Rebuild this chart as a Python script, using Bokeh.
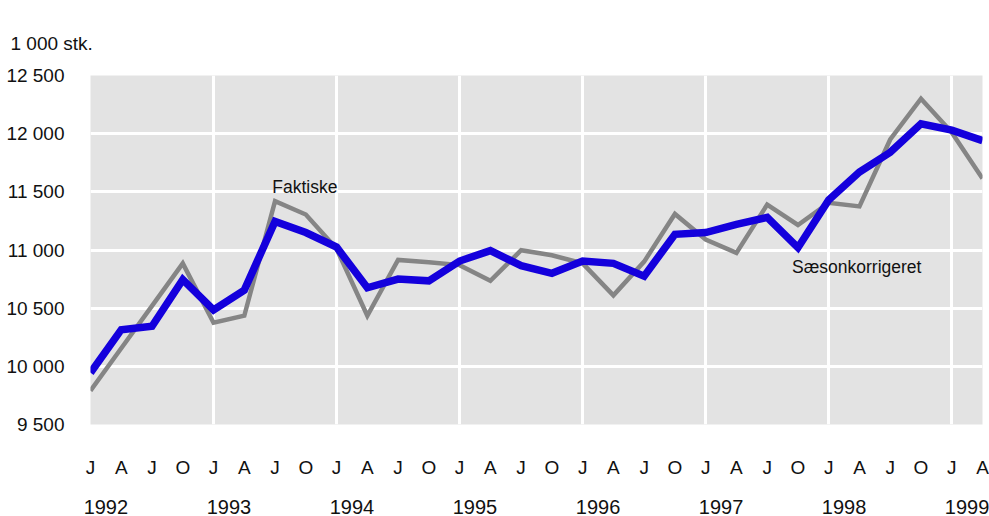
from bokeh.plotting import figure
from bokeh.models import FixedTicker, LinearAxis, Range1d
from bokeh.embed import file_html
from bokeh.resources import INLINE
from bokeh.core.properties import value

# ---- data -------------------------------------------------------------
years = [1992, 1993, 1994, 1995, 1996, 1997, 1998, 1999]
quarter_letters = ["J", "A", "J", "O"]

# quarterly, 1992 Q1 .. 1999 Q2 (1 000 stk.)
faktiske = [9790, 10155, 10520, 10885,
            10375, 10435, 11420, 11305,
            11010, 10435, 10915, 10895,
            10870, 10735, 10998, 10955,
            10885, 10610, 10900, 11310,
            11090, 10975, 11390, 11215,
            11405, 11375, 11950, 12300,
            12010, 11615]
saesonkorrigeret = [9945, 10315, 10345, 10745,
                    10485, 10655, 11245, 11150,
                    11025, 10675, 10750, 10735,
                    10905, 10995, 10865, 10800,
                    10905, 10885, 10775, 11135,
                    11150, 11220, 11280, 11020,
                    11430, 11670, 11840, 12085,
                    12030, 11940]

y_ticks = [9500, 10000, 10500, 11000, 11500, 12000, 12500]
y_tick_labels = ["9 500", "10 000", "10 500", "11 000", "11 500", "12 000", "12 500"]
unit_label = "1 000 stk."
series_names = ["Faktiske", "Sæsonkorrigeret"]

# ---- derived ----------------------------------------------------------
n = len(faktiske)
x = list(range(n))
quarter_labels = [quarter_letters[i % 4] for i in x]
year_pos = [4 * k + 0.5 for k in range(len(years))]

FONT = "Liberation Sans"
INK = "#111111"

p = figure(width=989, height=516,
           x_range=Range1d(0, n - 1), y_range=Range1d(y_ticks[0], y_ticks[-1]),
           output_backend="svg", toolbar_location=None,
           min_border_left=90, min_border_right=7, min_border_top=75, min_border_bottom=86)

p.background_fill_color = "#E3E3E3"
p.border_fill_color = "white"
p.outline_line_color = None

# title (unit)
p.title.text = unit_label
p.title.text_font = FONT
p.title.text_font_size = "19px"
p.title.text_font_style = "normal"
p.title.text_color = INK
p.title.align = "left"
p.title.offset = -80
p.title.standoff = 44

# grids
p.xgrid.ticker = FixedTicker(ticks=[4 * k for k in range(1, len(years))])
p.ygrid.ticker = FixedTicker(ticks=y_ticks[1:-1])
for g in (p.xgrid[0], p.ygrid[0]):
    g.grid_line_color = "white"
    g.grid_line_width = 3

# y axis
ya = p.yaxis[0]
ya.ticker = FixedTicker(ticks=y_ticks)
ya.major_label_overrides = {t: s for t, s in zip(y_ticks, y_tick_labels)}
ya.axis_line_color = None
ya.major_tick_line_color = None
ya.minor_tick_line_color = None
ya.major_label_standoff = 20
ya.major_label_text_font = FONT
ya.major_label_text_font_size = "19px"
ya.major_label_text_color = INK

# quarter axis
xa = p.xaxis[0]
xa.ticker = FixedTicker(ticks=x)
xa.major_label_overrides = {i: s for i, s in zip(x, quarter_labels)}
xa.axis_line_color = None
xa.major_tick_line_color = None
xa.minor_tick_line_color = None
xa.major_label_standoff = 26
xa.major_label_text_font = FONT
xa.major_label_text_font_size = "19px"
xa.major_label_text_color = INK

# year axis
yr_axis = LinearAxis(ticker=FixedTicker(ticks=year_pos),
                     major_label_overrides={pos: str(yr) for pos, yr in zip(year_pos, years)})
yr_axis.axis_line_color = None
yr_axis.major_tick_line_color = None
yr_axis.minor_tick_line_color = None
yr_axis.major_label_standoff = 13
yr_axis.major_label_text_font = FONT
yr_axis.major_label_text_font_size = "20px"
yr_axis.major_label_text_color = INK
p.add_layout(yr_axis, "below")

# lines
p.line(x, faktiske, line_color="#858585", line_width=4.5, line_join="miter")
p.line(x, saesonkorrigeret, line_color="#1400DC", line_width=7.5, line_join="miter")

# series labels
p.text(x=[5.91], y=[11545], text=[series_names[0]], text_font=value(FONT),
       text_font_size="17.5px", text_color=INK, text_baseline="alphabetic")
p.text(x=[22.81], y=[10850], text=[series_names[1]], text_font=value(FONT),
       text_font_size="17.5px", text_color=INK, text_baseline="alphabetic")

open("out.html", "w").write(file_html(p, INLINE))
